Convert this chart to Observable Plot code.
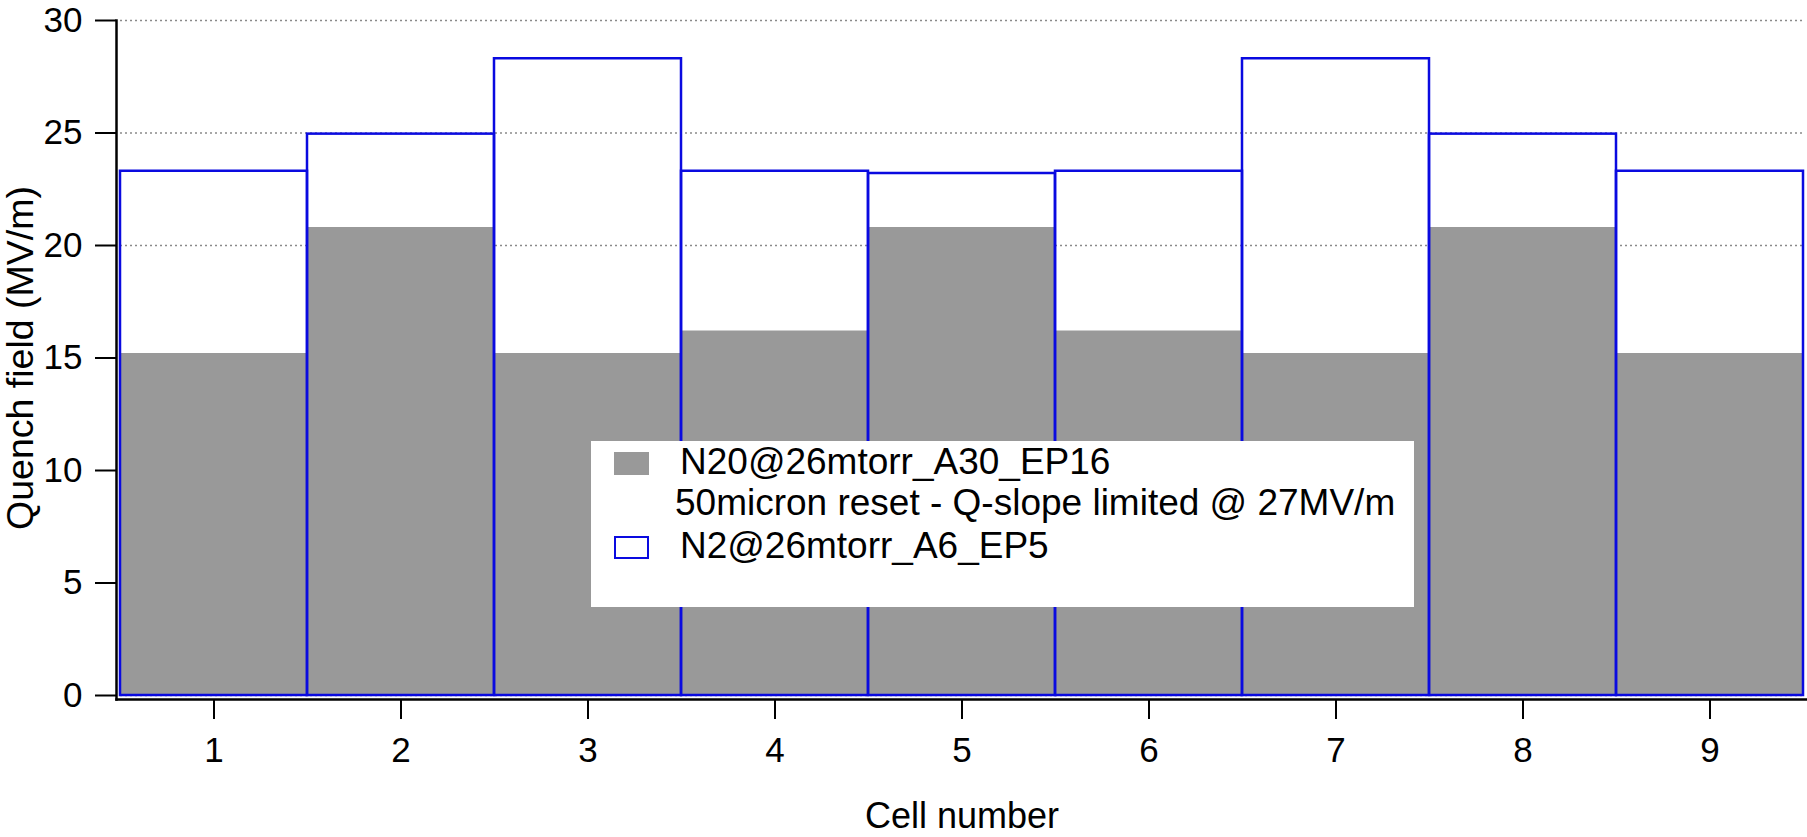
<!DOCTYPE html>
<html>
<head>
<meta charset="utf-8">
<script src="https://cdn.jsdelivr.net/npm/d3@7"></script>
<script src="https://cdn.jsdelivr.net/npm/@observablehq/plot@0.6"></script>
<style>
  html, body { margin: 0; padding: 0; background: white; }
  #wrap { position: relative; width: 1807px; height: 837px; overflow: hidden; font-family: "Liberation Sans", Arial, sans-serif; }
  #legend { position: absolute; left: 591px; top: 441px; width: 823px; height: 166px; background: white; }
  .lt { position: absolute; font-size: 37px; line-height: 37px; white-space: nowrap; color: black; }
  .sw { position: absolute; left: 23px; box-sizing: border-box; }
</style>
</head>
<body>
<div id="wrap"></div>
<script>
const cells = [1, 2, 3, 4, 5, 6, 7, 8, 9];
const n20Values = [15.2, 20.8, 15.2, 16.2, 20.8, 16.2, 15.2, 20.8, 15.2];
const n2Values = [23.3, 24.95, 28.3, 23.3, 23.2, 23.3, 28.3, 24.95, 23.3];
const yTicks = [0, 5, 10, 15, 20, 25, 30];
const seriesNames = ["N20@26mtorr_A30_EP16", "50micron reset - Q-slope limited @ 27MV/m", "N2@26mtorr_A6_EP5"];
const xTitle = "Cell number";
const yTitle = "Quench field (MV/m)";

const data = cells.map((c, i) => ({cell: c, n20: n20Values[i], n2: n2Values[i]}));

const chart = Plot.plot({
  width: 1807,
  height: 837,
  marginLeft: 120,
  marginRight: 4,
  marginTop: 20,
  marginBottom: 142,
  x: {type: "band", domain: cells, padding: 0},
  y: {domain: [0, 30]},
  style: {fontFamily: "'Liberation Sans', Arial, sans-serif", fontSize: "35px", color: "black", background: "white"},
  marks: [
    Plot.gridY(yTicks, {stroke: "#8a8a8a", strokeOpacity: 1, strokeWidth: 1.3, strokeDasharray: "2,3"}),
    Plot.barY(data, {x: "cell", y: "n20", fill: "#999999"}),
    Plot.barY(data, {x: "cell", y: "n2", fill: "none", stroke: "#0a0ae0", strokeWidth: 2.5}),
    Plot.axisY(yTicks, {tickSize: 21, dx: -4, tickPadding: 13, label: null, fontSize: 35, strokeWidth: 2}),
    Plot.axisX(cells, {tickSize: 20, dy: 4, tickPadding: 18, label: null, fontSize: 35, strokeWidth: 2}),
    Plot.frame({anchor: "left", insetLeft: -4, insetBottom: -4, stroke: "black", strokeWidth: 2.5}),
    Plot.frame({anchor: "bottom", insetLeft: -4, insetRight: -4, insetBottom: -4, stroke: "black", strokeWidth: 2.5}),
    Plot.text([yTitle], {text: d => d, frameAnchor: "left", textAnchor: "middle", dx: -100, rotate: -90, fontSize: 37.5}),
    Plot.text([xTitle], {text: d => d, frameAnchor: "bottom", textAnchor: "middle", dy: 132, fontSize: 36})
  ]
});

const wrap = document.getElementById("wrap");
wrap.appendChild(chart);

const legend = document.createElement("div");
legend.id = "legend";
legend.innerHTML = `
  <div class="sw" style="top:11px;width:35px;height:23px;background:#999999;"></div>
  <div class="lt" style="left:89px;top:2px;">${seriesNames[0]}</div>
  <div class="lt" style="left:84px;top:43px;">${seriesNames[1]}</div>
  <div class="sw" style="top:95px;width:35px;height:23px;border:2px solid #0a0ae0;"></div>
  <div class="lt" style="left:89px;top:86px;">${seriesNames[2]}</div>
`;
wrap.appendChild(legend);
</script>
</body>
</html>
